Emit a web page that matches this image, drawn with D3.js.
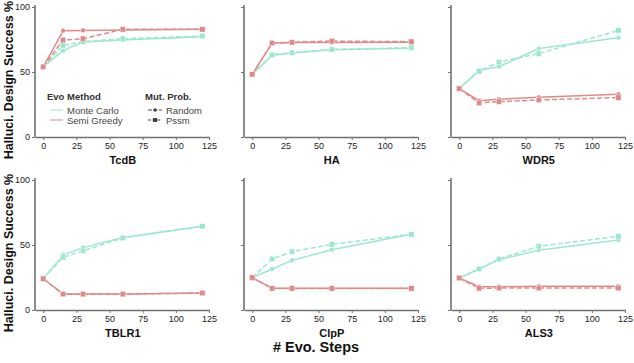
<!DOCTYPE html>
<html>
<head>
<meta charset="utf-8">
<script src="https://cdn.jsdelivr.net/npm/d3@7"></script>
<style>
  body { margin: 0; background: #fff; }
  svg { font-family: "Liberation Sans", Arial, sans-serif; }
</style>
</head>
<body>
<div class="canvas"></div>
<script>
// evolution steps on the x axis
var steps = [0, 15, 30, 60, 120];
var targets = ["TcdB", "HA", "WDR5", "TBLR1", "ClpP", "ALS3"];
var xTicks = [0, 25, 50, 75, 100, 125];
var yTicks = [0, 50, 100];

// success % per target: Monte Carlo / Semi Greedy x Random / Pssm
var tcdbMcRandom = [54, 66.4, 73, 74.6, 77.2];
var tcdbMcPssm   = [54, 70.5, 73.3, 75.6, 77.7];
var tcdbSgRandom = [54, 81.8, 82, 82.3, 82.8];
var tcdbSgPssm   = [54, 74.6, 75.6, 82.8, 82.8];

var haMcRandom = [48.2, 62.8, 64.6, 67.2, 68.3];
var haMcPssm   = [48.2, 63.2, 64.8, 67.4, 68.7];
var haSgRandom = [48.2, 72.3, 72.6, 72.6, 72.9];
var haSgPssm   = [48.2, 72.3, 72.8, 73.8, 73.3];

var wdr5McRandom = [37.2, 51.3, 54.1, 68, 76.4];
var wdr5McPssm   = [37.2, 50.5, 57.7, 64.1, 82];
var wdr5SgRandom = [37.2, 27.9, 29, 30.5, 32.8];
var wdr5SgPssm   = [37.2, 26.2, 27.2, 28.5, 30.3];

var tblr1McRandom = [24.1, 42.3, 48, 55.8, 64.4];
var tblr1McPssm   = [24.1, 40.5, 45.6, 55.4, 64.4];
var tblr1SgRandom = [24.1, 12.3, 12.3, 12.3, 13.1];
var tblr1SgPssm   = [24.1, 12.2, 12.2, 12.2, 13.0];

var clppMcRandom = [24.9, 31.5, 38.2, 46.4, 58.2];
var clppMcPssm   = [24.9, 39.2, 44.9, 50.5, 58.2];
var clppSgRandom = [24.9, 16.7, 16.7, 16.7, 16.7];
var clppSgPssm   = [24.9, 16.6, 16.6, 16.6, 16.6];

var als3McRandom = [24.6, 31.5, 38.7, 45.9, 53.8];
var als3McPssm   = [24.6, 31.5, 39.2, 49, 56.7];
var als3SgRandom = [24.6, 17.9, 17.9, 18.2, 18.2];
var als3SgPssm   = [24.6, 16.7, 16.9, 16.9, 16.9];

var panelData = [
  [tcdbMcRandom, tcdbMcPssm, tcdbSgRandom, tcdbSgPssm],
  [haMcRandom, haMcPssm, haSgRandom, haSgPssm],
  [wdr5McRandom, wdr5McPssm, wdr5SgRandom, wdr5SgPssm],
  [tblr1McRandom, tblr1McPssm, tblr1SgRandom, tblr1SgPssm],
  [clppMcRandom, clppMcPssm, clppSgRandom, clppSgPssm],
  [als3McRandom, als3McPssm, als3SgRandom, als3SgPssm]
];

var mcColor = "#9de8cb", sgColor = "#df8a8a";
// series order: color, dashed?, marker
var seriesStyle = [
  {color: mcColor, dash: null, marker: "circle"},
  {color: mcColor, dash: "5,2.5", marker: "square"},
  {color: sgColor, dash: null, marker: "circle"},
  {color: sgColor, dash: "5,2.5", marker: "square"}
];

var W = 634, H = 363;
var svg = d3.select(".canvas").append("svg").attr("width", W).attr("height", H);

var colLeft = [35, 244, 451];
var rowBottom = [137, 310];
var panelW = 174, panelH = 130;

targets.forEach(function(name, k) {
  var col = k % 3, row = Math.floor(k / 3);
  var x0 = colLeft[col], yb = rowBottom[row];
  var g = svg.append("g");

  var scaleX = d3.scaleLinear().domain([-6.2, 125]).range([x0, x0 + panelW]);
  var scaleY = d3.scaleLinear().domain([0, 100]).range([yb, yb - panelH]);

  var xAxis = d3.axisBottom(scaleX).tickValues(xTicks).tickSize(3).tickPadding(3).tickSizeOuter(0);
  var gx = g.append("g").attr("transform", "translate(0," + yb + ")").call(xAxis);
  var yAxis = d3.axisLeft(scaleY).tickValues(yTicks).tickSize(3).tickPadding(2)
    .tickFormat(col === 0 ? d3.format("d") : "").tickSizeOuter(0);
  var gy = g.append("g").attr("transform", "translate(" + x0 + ",0)").call(yAxis);
  gy.select(".domain").attr("d", "M0," + yb + "V" + (yb - panelH - 2));

  [gx, gy].forEach(function(a) {
    a.selectAll(".domain").attr("stroke", "#707070").attr("stroke-width", 1.6);
    a.selectAll(".tick line").attr("stroke", "#707070").attr("stroke-width", 1);
    a.selectAll("text").attr("font-size", "9px").attr("fill", "#222");
  });

  var line = d3.line()
    .x(function(d, i) { return scaleX(steps[i]); })
    .y(function(d) { return scaleY(d); });

  panelData[k].forEach(function(vals, s) {
    var st = seriesStyle[s];
    g.append("path").datum(vals)
      .attr("d", line)
      .attr("fill", "none")
      .attr("stroke", st.color)
      .attr("stroke-width", 1.5)
      .attr("stroke-dasharray", st.dash);
    vals.forEach(function(v, i) {
      if (st.marker === "circle") {
        g.append("circle").attr("cx", scaleX(steps[i])).attr("cy", scaleY(v)).attr("r", 2.4)
          .attr("fill", st.color).attr("stroke", "#fff").attr("stroke-width", 0.4);
      } else {
        g.append("rect").attr("x", scaleX(steps[i]) - 2.7).attr("y", scaleY(v) - 2.7)
          .attr("width", 5.4).attr("height", 5.4)
          .attr("fill", st.color).attr("stroke", "#fff").attr("stroke-width", 0.4);
      }
    });
  });

  g.append("text").attr("x", scaleX(60)).attr("y", yb + 27)
    .attr("text-anchor", "middle").attr("font-size", "11px").attr("font-weight", "bold")
    .attr("fill", "#111").text(name);

  if (col === 0) {
    svg.append("text")
      .attr("transform", "translate(12.5," + (yb - 57) + ") rotate(-90)")
      .attr("text-anchor", "middle").attr("font-size", "12.5px").attr("font-weight", "bold")
      .attr("fill", "#111").text("Halluci. Design Success %");
  }
});

svg.append("text").attr("x", 316).attr("y", 352)
  .attr("text-anchor", "middle").attr("font-size", "14.5px").attr("font-weight", "bold")
  .attr("fill", "#111").text("# Evo. Steps");

// legend
var leg = svg.append("g").attr("font-size", "9.5px");
leg.append("text").attr("x", 47).attr("y", 99.5).attr("font-weight", "bold").attr("fill", "#333").text("Evo Method");
leg.append("text").attr("x", 145).attr("y", 99.5).attr("font-weight", "bold").attr("fill", "#333").text("Mut. Prob.");
var methods = ["Monte Carlo", "Semi Greedy"], methodColors = [mcColor, sgColor];
methods.forEach(function(m, i) {
  var y = 110 + i * 10;
  leg.append("line").attr("x1", 50).attr("x2", 63).attr("y1", y).attr("y2", y)
    .attr("stroke", methodColors[i]).attr("stroke-width", 1);
  leg.append("text").attr("x", 67).attr("y", y + 3.5).attr("fill", "#444").text(m);
});
var probs = ["Random", "Pssm"];
probs.forEach(function(p, i) {
  var y = 110 + i * 10;
  leg.append("line").attr("x1", 148).attr("x2", 162).attr("y1", y).attr("y2", y)
    .attr("stroke", "#444").attr("stroke-width", 1).attr("stroke-dasharray", i ? "3,1.5" : "4,1.5");
  if (i === 0) leg.append("circle").attr("cx", 155).attr("cy", y).attr("r", 1.8).attr("fill", "#444");
  else leg.append("rect").attr("x", 153).attr("y", y - 2).attr("width", 4).attr("height", 4).attr("fill", "#444");
  leg.append("text").attr("x", 166).attr("y", y + 3.5).attr("fill", "#444").text(p);
});
</script>
</body>
</html>
